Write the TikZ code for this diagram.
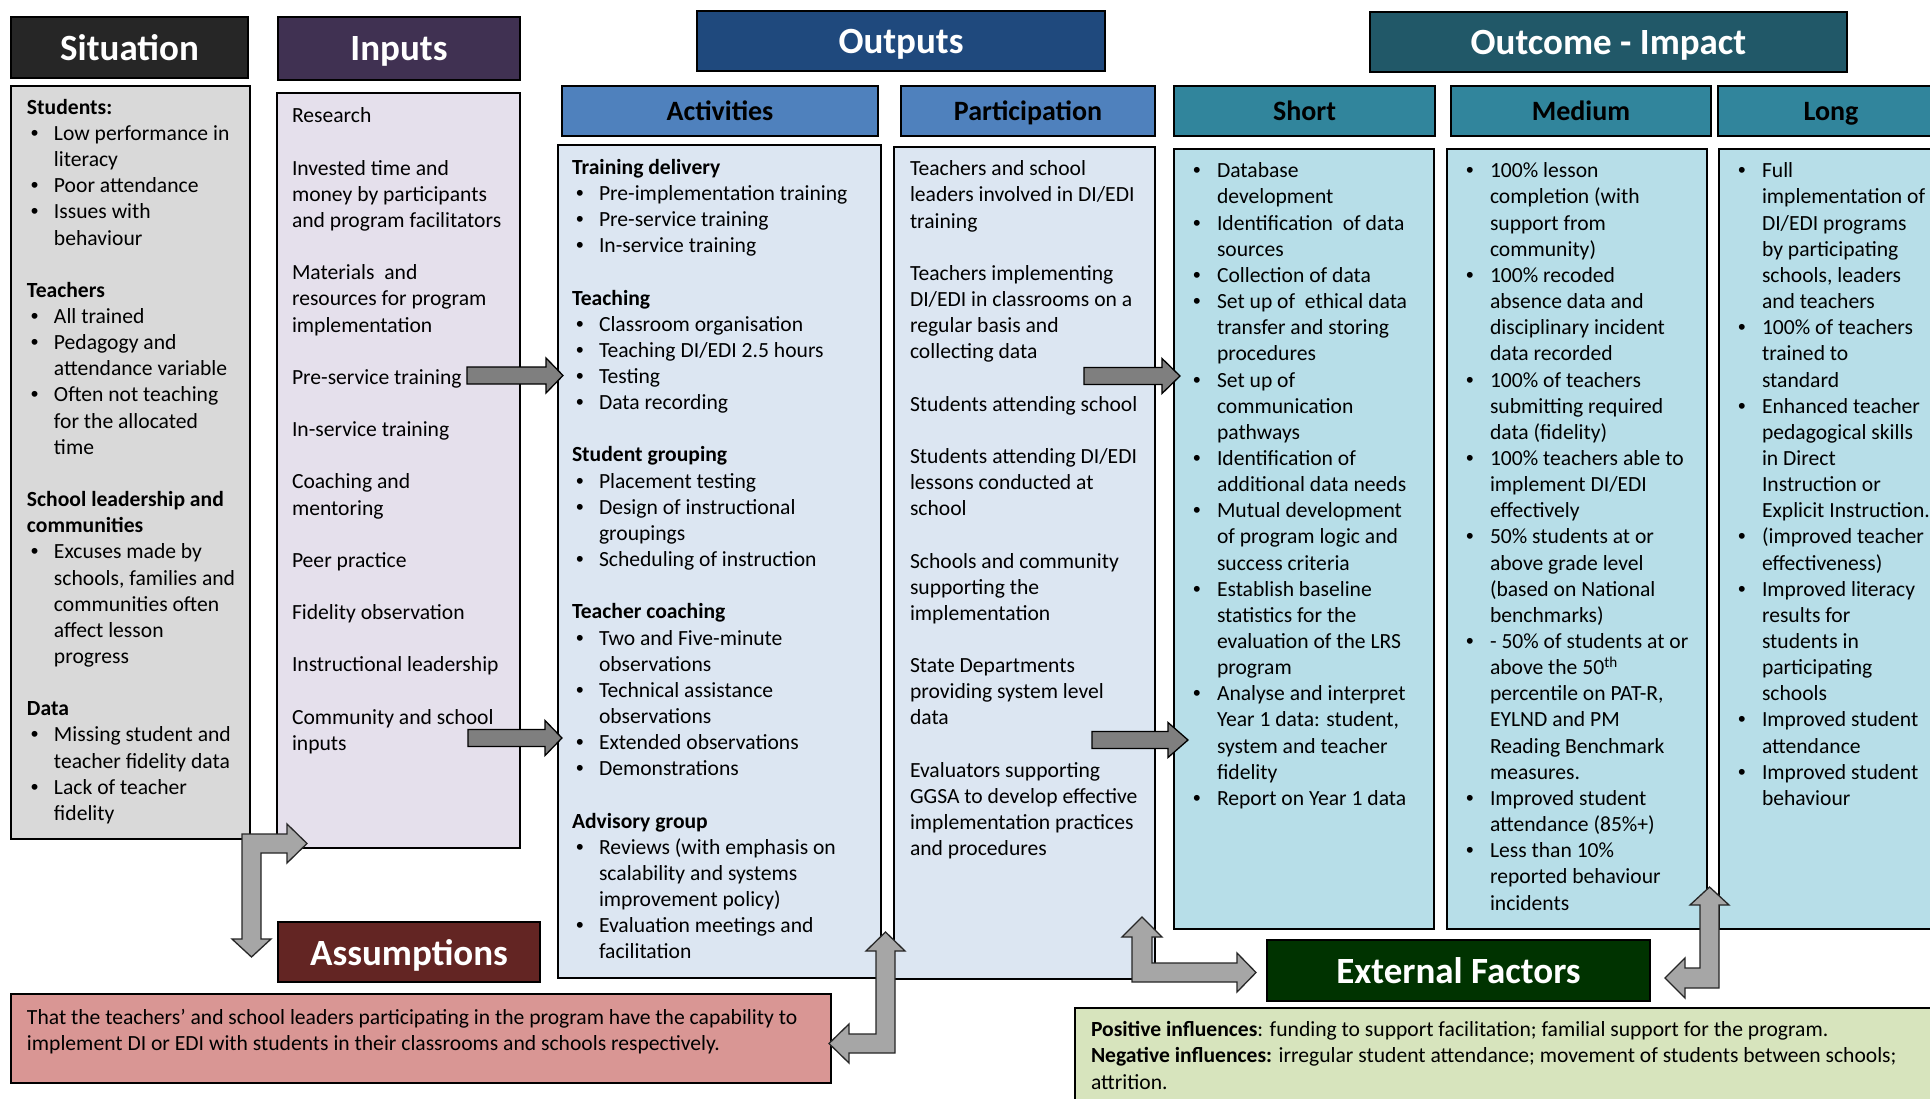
\documentclass[tikz,border=0pt]{standalone}
\usepackage{fontspec}
\setmainfont{Carlito}
\newfontfamily\bulfont{Liberation Sans}
\definecolor{cSitH}{HTML}{262626}
\definecolor{cInpH}{HTML}{403152}
\definecolor{cOutH}{HTML}{1F497D}
\definecolor{cOcH}{HTML}{215868}
\definecolor{cActH}{HTML}{4F81BD}
\definecolor{cShH}{HTML}{31859C}
\definecolor{cSitB}{HTML}{D9D9D9}
\definecolor{cInpB}{HTML}{E5E0EC}
\definecolor{cActB}{HTML}{DCE6F2}
\definecolor{cShB}{HTML}{B7DEE8}
\definecolor{cAsH}{HTML}{632523}
\definecolor{cAsB}{HTML}{D99694}
\definecolor{cExH}{HTML}{003300}
\definecolor{cExB}{HTML}{D7E4BD}
\definecolor{cArD}{HTML}{7F7F7F}
\definecolor{cArL}{HTML}{A6A6A6}
\newcommand\bi{\hspace*{4pt}\makebox[23pt][l]{\bulfont •}}
\newcommand\ci{\hspace*{27pt}}
\newcommand\bj{\makebox[24pt][l]{\bulfont •}}
\newcommand\cj{\hspace*{24pt}}
\newcommand\rarr[4]{\draw[darrow] (#1,#4-8.5) -- (#2,#4-8.5) -- (#2,#4-17.5) -- (#3,#4) -- (#2,#4+17.5) -- (#2,#4+8.5) -- (#1,#4+8.5) -- cycle;}
\begin{document}
\begin{tikzpicture}[x=1pt,y=-1pt,
  every node/.style={inner sep=0pt,outer sep=0pt},
  boxed/.style={draw=black,line width=2pt},
  bigtitle/.style={boxed,text=white,text depth=0pt,font=\fontsize{37}{44}\selectfont\bfseries},
  subtitle/.style={boxed,text=black,text depth=0pt,font=\fontsize{28}{34}\selectfont\bfseries},
  body/.style={anchor=north west,align=left,font=\fontsize{21.6}{26.15}\selectfont,text=black},
  darrow/.style={fill=cArD,draw=black,line width=1.3pt,line join=miter},
  larrow/.style={fill=cArL,draw=black!85,line width=1.3pt,line join=miter}]
\useasboundingbox (0,0) rectangle (1930,1099);
\fill[white] (0,0) rectangle (1930,1099);

% ---------- headers ----------
\node[bigtitle,fill=cSitH,minimum width=237,minimum height=61] (sitH) at (129.5,47.5) {Situation};
\node[bigtitle,fill=cInpH,minimum width=242,minimum height=63] (inpH) at (399,48.5) {Inputs};
\node[bigtitle,fill=cOutH,minimum width=408,minimum height=60] (outH) at (901,41) {Outputs};
\node[bigtitle,fill=cOcH,minimum width=477,minimum height=60] (ocH) at (1608.5,42) {Outcome - Impact};
\node[subtitle,fill=cActH,minimum width=316,minimum height=50] (actH) at (720,111) {Activities};
\node[subtitle,fill=cActH,minimum width=254,minimum height=50] (parH) at (1028,111) {Participation};
\node[subtitle,fill=cShH,minimum width=261,minimum height=50] (shoH) at (1304.5,111) {Short};
\node[subtitle,fill=cShH,minimum width=260,minimum height=50] (medH) at (1581,111) {Medium};
\node[subtitle,fill=cShH,minimum width=226,minimum height=50] (lonH) at (1831,111) {Long};

% ---------- bodies ----------
\node[boxed,fill=cSitB,minimum width=239,minimum height=753] (sitB) at (130.5,462.5) {};
\node[boxed,fill=cInpB,minimum width=243,minimum height=755] (inpB) at (398.5,470.5) {};
\node[boxed,fill=cActB,minimum width=323,minimum height=833] (actB) at (719.5,561.5) {};
\node[boxed,fill=cActB,minimum width=261,minimum height=832] (parB) at (1024.5,563) {};
\node[boxed,fill=cShB,minimum width=260,minimum height=780] (shoB) at (1304,539) {};
\node[boxed,fill=cShB,minimum width=260,minimum height=780] (medB) at (1577,539) {};
\node[boxed,fill=cShB,minimum width=225,minimum height=780] (lonB) at (1831.5,539) {};
\node[bigtitle,fill=cAsH,minimum width=262,minimum height=60] (asH) at (409,952) {Assumptions};
\node[boxed,fill=cAsB,minimum width=820,minimum height=89] (asB) at (421,1038.5) {};
\node[bigtitle,fill=cExH,minimum width=383,minimum height=61] (exH) at (1458.5,970.5) {External Factors};
\node[boxed,fill=cExB,minimum width=870,minimum height=102] (exB) at (1510,1059) {};

% ---------- texts ----------
\node[body] (sitT) at (27,96) {\strut\textbf{Students:}\\
\bi Low performance in\\ \ci literacy\\ \bi Poor attendance\\ \bi Issues with\\ \ci behaviour\\[26.15pt]
\textbf{Teachers}\\ \bi All trained\\ \bi Pedagogy and\\ \ci attendance variable\\ \bi Often not teaching\\ \ci for the allocated\\ \ci time\\[26.15pt]
\textbf{School leadership and}\\ \textbf{communities}\\ \bi Excuses made by\\ \ci schools, families and\\ \ci communities often\\ \ci affect lesson\\ \ci progress\\[26.15pt]
\textbf{Data}\\ \bi Missing student and\\ \ci teacher fidelity data\\ \bi Lack of teacher\\ \ci fidelity};

\node[body] (inpT) at (292,104.5) {\strut Research\\[26.15pt]
Invested time and\\ money by participants\\ and program facilitators\\[26.15pt]
Materials\ \ and\\ resources for program\\ implementation\\[26.15pt]
Pre-service training\\[26.15pt] In-service training\\[26.15pt] Coaching and\\ mentoring\\[26.15pt]
Peer practice\\[26.15pt] Fidelity observation\\[26.15pt] Instructional leadership\\[26.15pt]
Community and school\\ inputs};

\node[body] (actT) at (572,156) {\strut\textbf{Training delivery}\\
\bi Pre-implementation training\\ \bi Pre-service training\\ \bi In-service training\\[26.15pt]
\textbf{Teaching}\\ \bi Classroom organisation\\ \bi Teaching DI/EDI 2.5 hours\\ \bi Testing\\ \bi Data recording\\[26.15pt]
\textbf{Student grouping}\\ \bi Placement testing\\ \bi Design of instructional\\ \ci groupings\\ \bi Scheduling of instruction\\[26.15pt]
\textbf{Teacher coaching}\\ \bi Two and Five-minute\\ \ci observations\\ \bi Technical assistance\\ \ci observations\\ \bi Extended observations\\ \bi Demonstrations\\[26.15pt]
\textbf{Advisory group}\\ \bi Reviews (with emphasis on\\ \ci scalability and systems\\ \ci improvement policy)\\ \bi Evaluation meetings and\\ \ci facilitation};

\node[body] (parT) at (910,157.5) {\strut Teachers and school\\ leaders involved in DI/EDI\\ training\\[26.15pt]
Teachers implementing\\ DI/EDI in classrooms on a\\ regular basis and\\ collecting data\\[26.15pt]
Students attending school\\[26.15pt]
Students attending DI/EDI\\ lessons conducted at\\ school\\[26.15pt]
Schools and community\\ supporting the\\ implementation\\[26.15pt]
State Departments\\ providing system level\\ data\\[26.15pt]
Evaluators supporting\\ GGSA to develop effective\\ implementation practices\\ and procedures};

\node[body] (shoT) at (1193,159.5) {\strut\bj Database\\ \cj development\\ \bj Identification\ \ of data\\ \cj sources\\ \bj Collection of data\\
\bj Set up of\ \ ethical data\\ \cj transfer and storing\\ \cj procedures\\ \bj Set up of\\ \cj communication\\ \cj pathways\\
\bj Identification of\\ \cj additional data needs\\ \bj Mutual development\\ \cj of program logic and\\ \cj success criteria\\
\bj Establish baseline\\ \cj statistics for the\\ \cj evaluation of the LRS\\ \cj program\\
\bj Analyse and interpret\\ \cj Year 1 data: student,\\ \cj system and teacher\\ \cj fidelity\\ \bj Report on Year 1 data};

\node[body] (medT) at (1466,159.5) {\strut\bj 100\% lesson\\ \cj completion (with\\ \cj support from\\ \cj community)\\
\bj 100\% recoded\\ \cj absence data and\\ \cj disciplinary incident\\ \cj data recorded\\
\bj 100\% of teachers\\ \cj submitting required\\ \cj data (fidelity)\\
\bj 100\% teachers able to\\ \cj implement DI/EDI\\ \cj effectively\\
\bj 50\% students at or\\ \cj above grade level\\ \cj (based on National\\ \cj benchmarks)\\
\bj - 50\% of students at or\\ \cj above the 50\textsuperscript{th}\\ \cj percentile on PAT-R,\\ \cj EYLND and PM\\ \cj Reading Benchmark\\ \cj measures.\\
\bj Improved student\\ \cj attendance (85\%+)\\ \bj Less than 10\%\\ \cj reported behaviour\\ \cj incidents};

\node[body] (lonT) at (1738,159.5) {\strut\bj Full\\ \cj implementation of\\ \cj DI/EDI programs\\ \cj by participating\\ \cj schools, leaders\\ \cj and teachers\\
\bj 100\% of teachers\\ \cj trained to\\ \cj standard\\
\bj Enhanced teacher\\ \cj pedagogical skills\\ \cj in Direct\\ \cj Instruction or\\ \cj Explicit Instruction.\\
\bj (improved teacher\\ \cj effectiveness)\\
\bj Improved literacy\\ \cj results for\\ \cj students in\\ \cj participating\\ \cj schools\\
\bj Improved student\\ \cj attendance\\ \bj Improved student\\ \cj behaviour};

\node[body] (asT) at (27,1006) {\strut That the teachers’ and school leaders participating in the program have the capability to\\ implement DI or EDI with students in their classrooms and schools respectively.};

\node[body] (exT) at (1091,1018.5) {\strut\textbf{Positive influences}: funding to support facilitation; familial support for the program.\\ \textbf{Negative influences:} irregular student attendance; movement of students between schools;\\ attrition.};

% ---------- straight block arrows ----------
\rarr{467}{546}{563}{375.5}
\rarr{468}{545}{562}{738}
\rarr{1084}{1162}{1180}{376}
\rarr{1092}{1168}{1188}{740}

% ---------- elbow double arrows ----------
\draw[larrow] (242,834) -- (287,834) -- (287,824) -- (307,843.5) -- (287,863) -- (287,853) -- (261,853) -- (261,939) -- (271,939) -- (251.5,957) -- (232,939) -- (242,939) -- cycle;
\draw[larrow] (895,1053) -- (849,1053) -- (849,1063) -- (829,1043.5) -- (849,1024) -- (849,1034) -- (876,1034) -- (876,951) -- (866,951) -- (885.5,932) -- (905,951) -- (895,951) -- cycle;
\draw[larrow] (1132,982) -- (1132,937) -- (1122,937) -- (1142,917) -- (1162,937) -- (1152,937) -- (1152,963) -- (1237,963) -- (1237,953) -- (1256,972.5) -- (1237,992) -- (1237,982) -- cycle;
\draw[larrow] (1719,988) -- (1685,988) -- (1685,998) -- (1665,978) -- (1685,958) -- (1685,968) -- (1700,968) -- (1700,905) -- (1690,905) -- (1709.5,887) -- (1729,905) -- (1719,905) -- cycle;
\end{tikzpicture}
\end{document}
